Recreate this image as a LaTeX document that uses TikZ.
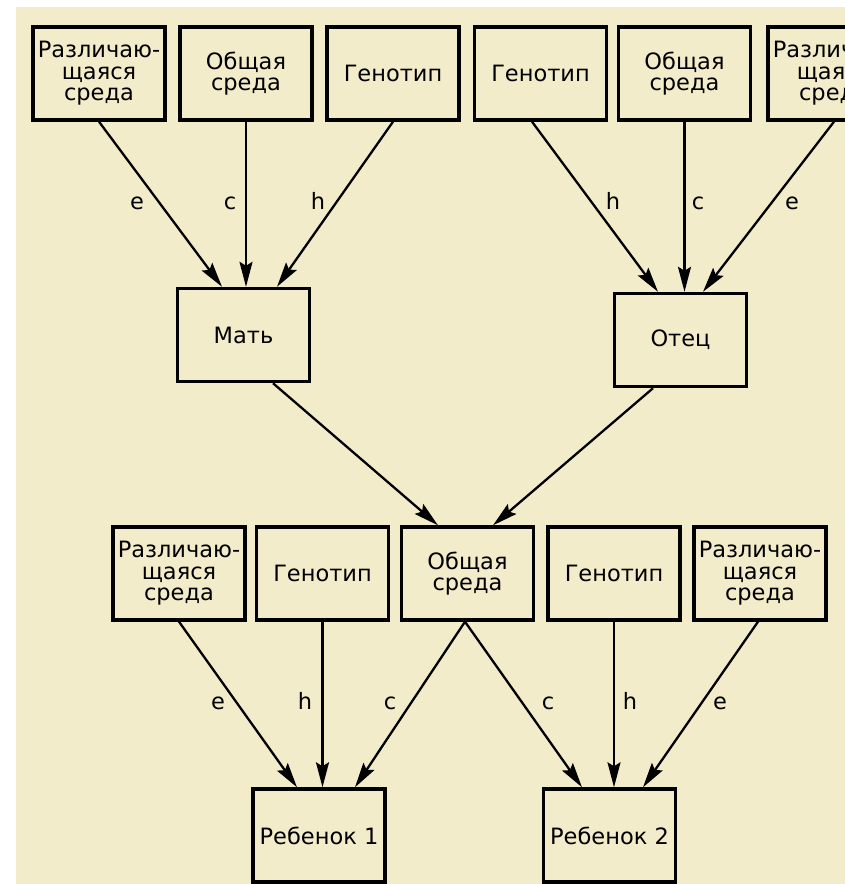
\documentclass[tikz,border=0pt]{standalone}
\usepackage{fontspec}
\setmainfont{DejaVu Sans}
\usepackage{xcolor}
\usetikzlibrary{arrows.meta}
\definecolor{fon}{RGB}{243,236,202}

\begin{document}
\begin{tikzpicture}[x=1pt, y=-1pt, line width=2pt,
        box/.style={draw, line width=3.4pt, fill=fon, minimum width=132pt, minimum height=93pt,
            inner sep=0pt, align=center, font=\fontsize{22.5}{21.5}\selectfont},
        arr/.style={-{Stealth[length=25pt, width=13pt, inset=4pt]}, line width=2.3pt},
        lbl/.style={anchor=base, inner sep=0pt, font=\fontsize{22.5}{21.5}\selectfont}]
        % поле рисунка
        \useasboundingbox (0,0) rectangle (845,884);
        \clip (0,0) rectangle (845,884);
        \fill[white] (0,0) rectangle (845,884);
        \fill[fon] (16,7) rectangle (845,884);

        % верхний ряд: мать
        \node[box] (razlM) at (99,73.5) {Различаю-\\щаяся\\среда};
        \node[box] (obshM) at (246,73.5) {Общая\\среда};
        \node[box] (genM) at (393,73.5) {Генотип};
        % верхний ряд: отец
        \node[box] (genO) at (540.5,73.5) {Генотип};
        \node[box] (obshO) at (684.5,73.5) {Общая\\среда};
        \node[box] (razlO) at (834,73.5) {Различаю-\\щаяся\\среда};

        % родители
        \node[box] (mat) at (243.5,335) {Мать};
        \node[box] (otec) at (680.5,340) {Отец};

        % нижний ряд
        \node[box] (razlA) at (179,573.5) {Различаю-\\щаяся\\среда};
        \node[box] (genA) at (322.5,573.5) {Генотип};
        \node[box] (obshD) at (467.5,573.5) {Общая\\среда};
        \node[box] (genB) at (614,573.5) {Генотип};
        \node[box] (razlB) at (760,573.5) {Различаю-\\щаяся\\среда};

        % дети
        \node[box] (reb1) at (319,835.5) {Ребенок 1};
        \node[box] (reb2) at (609.5,835.5) {Ребенок 2};

        % стрелки к матери
        \draw[arr] (razlM.south) -- ([xshift=-21.5pt]mat.north);
        \draw[arr] (obshM.south) -- (obshM.south |- mat.north);
        \draw[arr] (genM.south) -- ([xshift=33.5pt]mat.north);
        % стрелки к отцу
        \draw[arr] ([xshift=-8.5pt]genO.south) -- ([xshift=-22.5pt]otec.north);
        \draw[arr] (obshO.south) -- (obshO.south |- otec.north);
        \draw[arr] (razlO.south) -- ([xshift=22.5pt]otec.north);
        % родители -> общая среда
        \draw[arr] ([xshift=29.5pt]mat.south) -- ([xshift=-29.5pt]obshD.north);
        \draw[arr] ([xshift=-27.5pt]otec.south) -- ([xshift=25.5pt]obshD.north);
        % стрелки к детям
        \draw[arr] (razlA.south) -- ([xshift=-22pt]reb1.north);
        \draw[arr] (genA.south) -- (genA.south |- reb1.north);
        \draw[arr] ([xshift=-2.5pt]obshD.south) -- ([xshift=36pt]reb1.north);
        \draw[arr] ([xshift=-2.5pt]obshD.south) -- ([xshift=-27.5pt]reb2.north);
        \draw[arr] (genB.south) -- (genB.south |- reb2.north);
        \draw[arr] ([xshift=-2pt]razlB.south) -- ([xshift=33.5pt]reb2.north);

        % подписи
        \node[lbl] (eM) at (137,209) {e};
        \node[lbl] (cM) at (230,209) {c};
        \node[lbl] (hM) at (318,209) {h};
        \node[lbl] (hO) at (613,209) {h};
        \node[lbl] (cO) at (698,209) {c};
        \node[lbl] (eO) at (792,209) {e};
        \node[lbl] (e1) at (218,709) {e};
        \node[lbl] (h1) at (305,709) {h};
        \node[lbl] (c1) at (390,709) {c};
        \node[lbl] (c2) at (548,709) {c};
        \node[lbl] (h2) at (630,709) {h};
        \node[lbl] (e2) at (720,709) {e};
    \end{tikzpicture}
\end{document}
